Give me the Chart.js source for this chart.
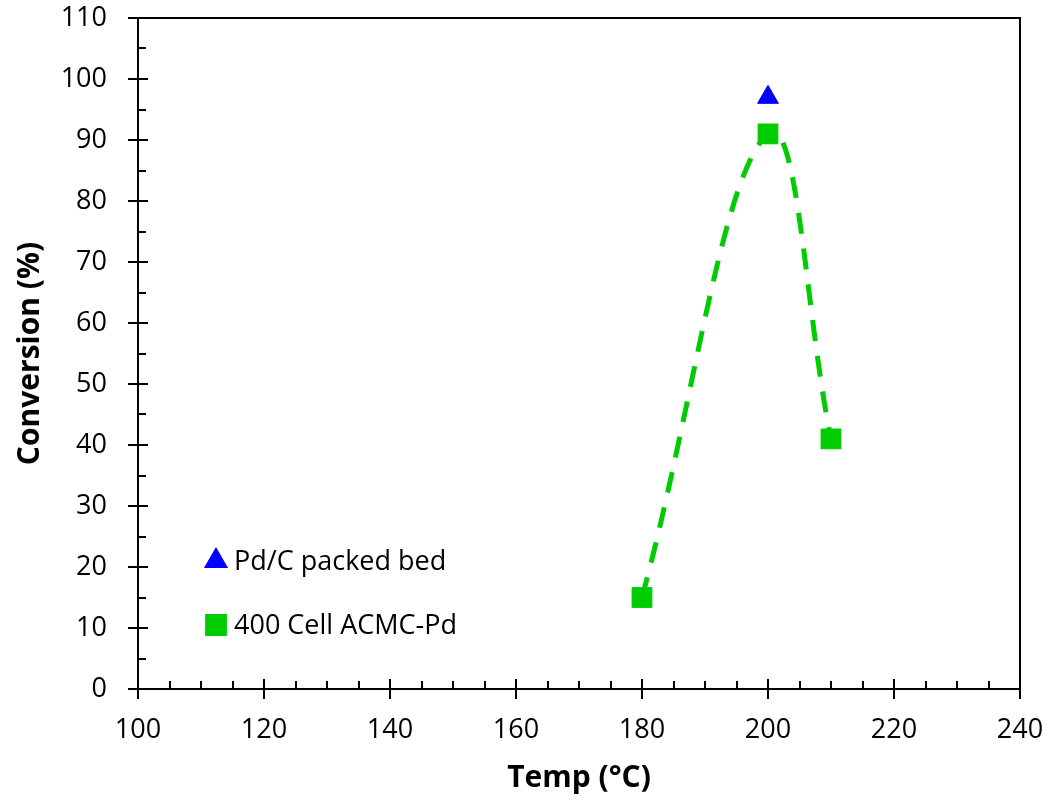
<!DOCTYPE html>
<html>
<head>
<meta charset="utf-8">
<script src="https://cdn.jsdelivr.net/npm/chart.js@4.4.1/dist/chart.umd.min.js"></script>
<style>
  html, body { margin: 0; padding: 0; background: #fff; }
  #wrap { width: 1050px; height: 800px; }
</style>
</head>
<body>
<div id="wrap"><canvas id="myChart" width="1050" height="800"></canvas></div>
<script>
// data
const packedBedTemp = [200];
const packedBedConv = [97];
const acmcTemp = [180, 200, 210];
const acmcConv = [15, 91, 41];

const xMajor = [100, 120, 140, 160, 180, 200, 220, 240];
const yMajor = [0, 10, 20, 30, 40, 50, 60, 70, 80, 90, 100, 110];

const blue = "#0000ff";
const green = "#00cc00";
const fontFamily = "'Open Sans', 'Noto Sans', sans-serif";

function toPoints(xs, ys) {
  return xs.map((x, i) => ({ x: x, y: ys[i] }));
}

// tick marks, frame and the legend inside the plot
const axesPlugin = {
  id: "axesPlugin",
  afterDraw(chart) {
    const ctx = chart.ctx;
    const area = chart.chartArea;
    const xs = chart.scales.x;
    const ys = chart.scales.y;
    ctx.save();
    ctx.strokeStyle = "#000";
    ctx.lineWidth = 2;
    ctx.strokeRect(area.left, area.top, area.right - area.left, area.bottom - area.top);

    ctx.beginPath();
    for (let v = xs.min; v <= xs.max; v += 5) {
      const px = Math.round(xs.getPixelForValue(v));
      if (v % 20 === 0) {
        ctx.moveTo(px, area.bottom - 10);
        ctx.lineTo(px, area.bottom + 10);
      } else {
        ctx.moveTo(px, area.bottom);
        ctx.lineTo(px, area.bottom - 8);
      }
    }
    for (let v = ys.min; v <= ys.max; v += 5) {
      const py = Math.round(ys.getPixelForValue(v));
      if (v % 10 === 0) {
        ctx.moveTo(area.left - 10, py);
        ctx.lineTo(area.left + 10, py);
      } else {
        ctx.moveTo(area.left, py);
        ctx.lineTo(area.left + 8, py);
      }
    }
    ctx.stroke();

    // legend
    const lx = area.left + 78;
    const rows = [
      { ds: 0, y: 561 },
      { ds: 1, y: 625 },
    ];
    ctx.font = "27px " + fontFamily;
    ctx.textBaseline = "middle";
    ctx.textAlign = "left";
    rows.forEach((r) => {
      const d = chart.data.datasets[r.ds];
      ctx.fillStyle = d.backgroundColor;
      ctx.strokeStyle = d.backgroundColor;
      Chart.helpers.drawPoint(ctx, {
        pointStyle: d.pointStyle,
        radius: d.legendRadius,
        rotation: 0,
        borderWidth: 1,
      }, lx, r.y);
      ctx.fillStyle = "#000";
      ctx.fillText(d.label, lx + 18, r.y + 1);
    });
    ctx.restore();
  },
};

const chart = new Chart("myChart", {
  type: "scatter",
  data: {
    datasets: [
      {
        label: "Pd/C packed bed",
        data: toPoints(packedBedTemp, packedBedConv),
        pointStyle: "triangle",
        pointRadius: 12,
        legendRadius: 12,
        backgroundColor: blue,
        borderColor: blue,
        pointBorderWidth: 1,
      },
      {
        label: "400 Cell ACMC-Pd",
        data: toPoints(acmcTemp, acmcConv),
        showLine: true,
        tension: 0.4,
        borderDash: [21, 15],
        borderWidth: 5,
        borderColor: green,
        backgroundColor: green,
        pointStyle: "rect",
        pointRadius: 14,
        legendRadius: 14,
        pointBorderWidth: 1,
        pointBorderColor: green,
      },
    ],
  },
  options: {
    responsive: false,
    animation: false,
    layout: { padding: { top: 18, right: 30, left: 0, bottom: 0 } },
    plugins: {
      legend: { display: false },
      tooltip: { enabled: false },
    },
    scales: {
      x: {
        type: "linear",
        min: 100,
        max: 240,
        afterBuildTicks: (scale) => {
          scale.ticks = xMajor.map((v) => ({ value: v }));
        },
        afterFit: (scale) => {
          scale.height = 111;
          scale.paddingLeft = 0;
          scale.paddingRight = 0;
        },
        grid: { display: false },
        border: { display: false },
        ticks: {
          color: "#000",
          font: { family: fontFamily, size: 27 },
          padding: 17,
          maxRotation: 0,
        },
        title: {
          display: true,
          text: "Temp (°C)",
          color: "#000",
          font: { family: fontFamily, size: 30, weight: "bold" },
          padding: { bottom: 4 },
        },
      },
      y: {
        min: 0,
        max: 110,
        afterBuildTicks: (scale) => {
          scale.ticks = yMajor.map((v) => ({ value: v }));
        },
        afterFit: (scale) => {
          scale.width = 138;
          scale.paddingTop = 0;
          scale.paddingBottom = 0;
        },
        grid: { display: false },
        border: { display: false },
        ticks: {
          color: "#000",
          font: { family: fontFamily, size: 27 },
          padding: 23,
        },
        title: {
          display: true,
          text: "Conversion (%)",
          color: "#000",
          font: { family: fontFamily, size: 30, weight: "bold" },
          padding: { top: 12 },
        },
      },
    },
  },
  plugins: [axesPlugin],
});
</script>
</body>
</html>
